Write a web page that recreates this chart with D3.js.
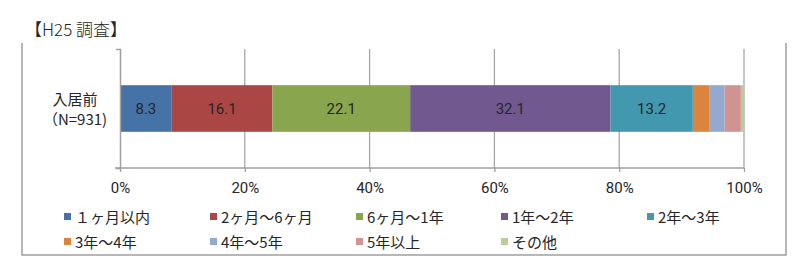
<!DOCTYPE html>
<html><head><meta charset="utf-8">
<script src="https://cdn.jsdelivr.net/npm/d3@7"></script>
<style>
html,body{margin:0;padding:0;background:#fff;}
svg{display:block;font-family:"Noto Sans CJK JP","Noto Sans",sans-serif;}
</style></head>
<body>
<svg id="c" width="800" height="266"></svg>
<script>
const title = "【H25 調査】";
const categories = ["入居前"];
const categorySub = ["（N=931)"];
const seriesNames = ["１ヶ月以内","2ヶ月～6ヶ月","6ヶ月～1年","1年～2年","2年～3年","3年～4年","4年～5年","5年以上","その他"];
const seriesValues = [8.3, 16.1, 22.1, 32.1, 13.2, 2.7, 2.4, 2.6, 0.5];
const seriesColors = ["#4572A7","#AA4643","#89A54E","#71588F","#4198AF","#DB843D","#93A9CF","#D19392","#B9CD96"];
const showLabel = [true,true,true,true,true,false,false,false,false];
const xTicks = [0,20,40,60,80,100];

const txt = "#262626";
const svg = d3.select("#c");
const plot = {l:120, r:744, t:49, b:168};
const x = d3.scaleLinear().domain([0,100]).range([plot.l, plot.r]);
const y = d3.scaleBand().domain(categories).range([plot.t, plot.b]).padding(0.437);

// outer frame (top cut off)
svg.append("path")
  .attr("d", `M22,43 V255 H786 V43`)
  .attr("fill","none").attr("stroke","#a0a0a0").attr("stroke-width",1.5);

// title
svg.append("text").attr("x",25).attr("y",36).attr("font-size",17).attr("font-weight",300).attr("fill",txt).text(title);

// gridlines
svg.append("g").selectAll("line").data(xTicks.filter(d=>d>0)).join("line")
  .attr("x1",d=>x(d)).attr("x2",d=>x(d)).attr("y1",plot.t).attr("y2",plot.b)
  .attr("stroke","#a6a6a6").attr("stroke-width",1.3);

// stacked bars
const stacked = [];
let acc = 0;
seriesValues.forEach((v,i)=>{ stacked.push({i, v, x0:acc, x1:acc+v}); acc+=v; });
const gb = svg.append("g");
gb.selectAll("rect").data(stacked).join("rect")
  .attr("x",d=>x(d.x0)).attr("width",d=>x(d.x1)-x(d.x0))
  .attr("y",y(categories[0])).attr("height",y.bandwidth())
  .attr("fill",d=>seriesColors[d.i]);
gb.selectAll("text").data(stacked.filter(d=>showLabel[d.i])).join("text")
  .attr("x",d=>(x(d.x0)+x(d.x1))/2).attr("y",y(categories[0])+y.bandwidth()/2+5.5)
  .attr("text-anchor","middle").attr("font-size",15).attr("fill",txt)
  .attr("font-family","Roboto, 'Noto Sans', sans-serif")
  .text(d=>d.v.toFixed(1));

// x axis
const xAxis = d3.axisBottom(x).tickValues(xTicks).tickFormat(d=>d+"%").tickSize(4).tickSizeOuter(0);
const gx = svg.append("g").attr("transform",`translate(0,${plot.b})`).call(xAxis);
gx.select(".domain").attr("stroke","#a0a0a0").attr("stroke-width",1.5).attr("d",`M${plot.l-5},0H${plot.r}`);
gx.selectAll(".tick line").attr("stroke","#a0a0a0").attr("stroke-width",1.3);
gx.selectAll(".tick text").attr("font-size",15).attr("fill",txt).attr("dy","0").attr("y",25)
  .attr("font-family","Roboto, 'Noto Sans', sans-serif");

// y axis line + ticks
const yAxis = d3.axisLeft(y).tickValues([]).tickSizeOuter(4);
const gy = svg.append("g").attr("transform",`translate(${plot.l},0)`).call(yAxis);
gy.select(".domain").attr("stroke","#a0a0a0").attr("stroke-width",1.5);

// category labels
const cy = y(categories[0]) + y.bandwidth()/2;
svg.append("text").attr("x",75).attr("y",cy-4).attr("text-anchor","middle").attr("font-size",15).attr("fill",txt).text(categories[0]);
svg.append("text").attr("x",75).attr("y",cy+16).attr("text-anchor","middle").attr("font-size",15).attr("fill",txt).text(categorySub[0]);

// legend
const legX = [64, 210, 356, 501, 647];
const legY = [217, 242];
const lg = svg.append("g");
seriesNames.forEach((n,i)=>{
  const col = i % 5, row = Math.floor(i/5);
  const g = lg.append("g").attr("transform",`translate(${legX[col]},${legY[row]})`);
  g.append("rect").attr("x",0).attr("y",-4).attr("width",7).attr("height",7).attr("fill",seriesColors[i]);
  g.append("text").attr("x",11).attr("y",5.5).attr("font-size",15).attr("fill",txt).text(n);
});
</script>
</body></html>
